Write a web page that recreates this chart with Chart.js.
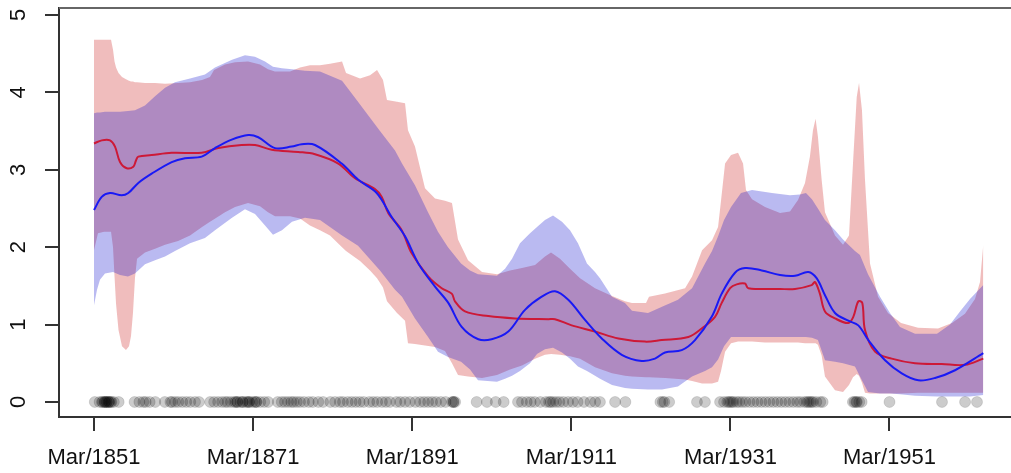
<!DOCTYPE html>
<html><head><meta charset="utf-8">
<script src="https://cdn.jsdelivr.net/npm/chart.js@4.4.1/dist/chart.umd.min.js"></script>
<style>html,body{margin:0;padding:0;background:#fff;overflow:hidden;}#wrap{width:1030px;height:473px;}</style>
</head><body><div id="wrap"><canvas id="c" width="1030" height="473"></canvas></div>
<script>
// ---- data (x = years counted from March) ----
const redBandYears = [1851.00,1851.50,1852.26,1853.14,1853.39,1853.58,1853.77,1854.08,1854.52,1855.02,1855.40,1855.65,1855.90,1856.15,1856.41,1857.41,1858.67,1859.93,1861.56,1863.07,1864.58,1865.58,1866.09,1867.47,1868.73,1870.36,1871.87,1872.87,1873.75,1875.64,1876.90,1878.15,1879.41,1880.67,1882.18,1882.68,1884.44,1885.70,1886.58,1887.33,1887.83,1889.09,1890.10,1890.47,1891.35,1892.61,1893.87,1895.12,1896.00,1896.76,1898.02,1899.78,1901.66,1903.30,1904.80,1906.44,1907.69,1908.45,1909.58,1910.84,1912.10,1913.98,1916.12,1917.75,1918.63,1920.39,1920.77,1922.78,1925.30,1926.18,1927.44,1928.69,1929.45,1929.82,1930.33,1931.08,1931.96,1932.59,1932.96,1933.72,1935.35,1937.24,1938.49,1939.50,1940.38,1941.00,1941.38,1941.71,1942.00,1942.47,1942.89,1944.15,1945.16,1945.91,1946.41,1946.88,1947.17,1947.54,1947.92,1948.55,1949.56,1950.81,1952.45,1954.59,1957.10,1958.86,1960.49,1961.75,1962.38,1962.79];
const redUpper = [4.68,4.68,4.68,4.68,4.55,4.40,4.32,4.25,4.20,4.17,4.15,4.14,4.14,4.13,4.13,4.12,4.12,4.11,4.12,4.13,4.16,4.20,4.29,4.36,4.39,4.40,4.36,4.30,4.27,4.27,4.32,4.35,4.35,4.37,4.40,4.25,4.18,4.22,4.29,4.16,3.90,3.88,3.86,3.51,3.30,2.76,2.63,2.60,2.57,2.10,1.83,1.68,1.65,1.70,1.73,1.77,1.88,1.93,1.85,1.72,1.60,1.47,1.37,1.30,1.28,1.28,1.36,1.40,1.47,1.62,1.96,2.09,2.26,2.60,3.08,3.19,3.22,3.08,2.74,2.62,2.52,2.44,2.46,2.61,2.83,3.17,3.51,3.66,3.43,2.87,2.45,2.15,2.03,2.15,3.08,3.94,4.12,3.77,2.87,1.79,1.36,1.15,1.02,0.96,0.95,1.02,1.14,1.33,1.55,2.03];
const redLower = [1.96,2.18,2.20,2.20,2.00,1.62,1.27,0.93,0.72,0.67,0.72,0.85,1.15,1.60,1.85,1.93,1.98,2.03,2.08,2.15,2.26,2.33,2.36,2.45,2.52,2.57,2.53,2.45,2.40,2.40,2.37,2.28,2.22,2.15,2.00,1.95,1.82,1.70,1.60,1.48,1.30,1.15,1.05,0.76,0.75,0.73,0.71,0.66,0.50,0.35,0.33,0.31,0.35,0.42,0.47,0.56,0.61,0.62,0.61,0.59,0.56,0.45,0.37,0.34,0.33,0.32,0.32,0.31,0.29,0.27,0.24,0.24,0.26,0.40,0.65,0.76,0.78,0.78,0.78,0.78,0.77,0.77,0.77,0.77,0.76,0.76,0.76,0.76,0.74,0.60,0.33,0.15,0.13,0.22,0.32,0.36,0.34,0.25,0.12,0.11,0.11,0.11,0.11,0.12,0.12,0.12,0.12,0.12,0.12,0.12];

const blueBandYears = [1851.00,1851.38,1851.75,1852.38,1853.39,1854.27,1855.27,1856.15,1857.41,1858.67,1859.93,1861.18,1863.07,1864.95,1866.21,1868.35,1869.98,1871.24,1872.50,1873.50,1874.63,1875.89,1877.52,1879.41,1882.18,1884.19,1886.95,1888.84,1889.72,1891.35,1892.99,1894.24,1895.50,1897.14,1898.27,1899.27,1901.66,1902.67,1903.55,1904.55,1905.81,1906.69,1907.69,1908.70,1909.83,1910.84,1911.84,1912.97,1913.98,1914.61,1916.12,1917.75,1918.63,1920.64,1922.40,1924.41,1926.18,1927.81,1928.69,1929.45,1930.20,1931.08,1932.33,1933.72,1936.23,1938.49,1939.75,1940.50,1941.25,1942.00,1942.89,1944.15,1945.16,1946.66,1947.29,1948.30,1949.81,1951.06,1952.32,1954.21,1956.97,1958.61,1959.86,1961.12,1962.79];
const blueUpper = [3.73,3.74,3.74,3.75,3.75,3.75,3.76,3.77,3.83,3.95,4.06,4.13,4.18,4.23,4.32,4.42,4.48,4.46,4.40,4.33,4.31,4.30,4.28,4.27,4.15,3.88,3.50,3.25,3.08,2.80,2.45,2.20,2.00,1.79,1.70,1.65,1.63,1.72,1.85,2.05,2.18,2.26,2.35,2.41,2.33,2.22,2.05,1.79,1.68,1.60,1.36,1.28,1.18,1.15,1.23,1.32,1.47,1.79,1.95,2.14,2.35,2.52,2.70,2.74,2.70,2.67,2.68,2.70,2.62,2.50,2.35,2.22,2.10,1.95,1.90,1.65,1.36,1.15,0.97,0.88,0.88,1.00,1.17,1.33,1.51];
const blueLower = [1.25,1.45,1.58,1.66,1.68,1.64,1.62,1.66,1.78,1.83,1.88,1.95,2.05,2.12,2.22,2.38,2.49,2.43,2.28,2.16,2.22,2.33,2.38,2.35,2.15,2.02,1.70,1.45,1.36,1.08,0.84,0.65,0.58,0.52,0.42,0.28,0.26,0.30,0.34,0.40,0.50,0.62,0.68,0.70,0.64,0.56,0.46,0.40,0.34,0.30,0.22,0.18,0.17,0.16,0.16,0.20,0.33,0.40,0.45,0.55,0.72,0.84,0.84,0.84,0.84,0.84,0.84,0.84,0.83,0.80,0.54,0.52,0.50,0.46,0.33,0.13,0.11,0.11,0.10,0.08,0.07,0.07,0.07,0.07,0.09];

const redLineYears = [1851.00,1851.97,1853.01,1853.64,1854.27,1855.11,1855.94,1856.28,1856.57,1858.25,1860.77,1864.54,1866.63,1869.57,1871.24,1873.34,1876.68,1878.78,1881.71,1883.81,1886.32,1887.17,1888.00,1889.68,1890.94,1893.03,1894.71,1895.97,1896.38,1897.64,1900.57,1903.92,1908.11,1908.95,1911.05,1913.98,1916.92,1920.27,1922.37,1925.71,1927.40,1929.07,1929.91,1930.96,1931.79,1932.84,1933.25,1937.24,1939.12,1941.22,1941.63,1942.25,1942.89,1944.15,1945.82,1946.45,1947.08,1947.58,1947.92,1949.18,1951.28,1954.21,1957.56,1960.49,1962.79];
const redLine = [3.34,3.38,3.38,3.30,3.10,3.02,3.04,3.12,3.17,3.19,3.22,3.22,3.28,3.32,3.32,3.26,3.23,3.20,3.08,2.89,2.75,2.65,2.44,2.22,1.92,1.62,1.47,1.40,1.30,1.17,1.11,1.08,1.07,1.07,0.99,0.91,0.82,0.78,0.80,0.84,0.95,1.10,1.28,1.47,1.52,1.53,1.47,1.46,1.46,1.51,1.55,1.40,1.17,1.08,1.02,1.10,1.30,1.28,0.93,0.65,0.56,0.50,0.49,0.48,0.56];

const blueLineYears = [1851.00,1851.97,1853.01,1854.48,1855.31,1856.57,1858.25,1860.77,1862.44,1864.54,1866.21,1868.31,1870.40,1871.65,1873.75,1875.85,1877.11,1878.78,1882.14,1884.23,1886.54,1888.42,1890.10,1891.77,1893.87,1895.54,1897.22,1899.31,1900.99,1903.08,1905.18,1907.28,1908.95,1910.62,1912.72,1914.83,1917.34,1919.85,1921.52,1922.78,1924.88,1926.55,1928.65,1929.91,1931.58,1932.84,1934.94,1937.24,1939.12,1940.79,1941.84,1942.89,1944.15,1945.82,1947.08,1948.34,1950.44,1952.54,1954.63,1956.72,1959.24,1962.79];
const blueLine = [2.48,2.65,2.70,2.67,2.70,2.83,2.95,3.10,3.15,3.17,3.28,3.39,3.45,3.42,3.28,3.30,3.33,3.32,3.08,2.87,2.70,2.39,2.14,1.79,1.49,1.28,0.97,0.81,0.81,0.91,1.19,1.36,1.43,1.32,1.06,0.82,0.61,0.53,0.56,0.64,0.67,0.80,1.10,1.40,1.67,1.73,1.70,1.64,1.63,1.68,1.60,1.38,1.15,1.05,0.99,0.80,0.54,0.37,0.28,0.31,0.41,0.63];

const eventYears = [1851.1,1851.7,1852.0,1852.1,1852.3,1852.4,1852.4,1852.6,1852.6,1852.8,1852.9,1852.9,1853.1,1853.2,1853.5,1854.1,
  1856.1,1856.7,1857.2,1857.5,1858.0,1858.7,
  1859.9,1860.6,1860.8,1861.2,1861.6,1862.1,1862.6,1863.1,1863.7,1864.2,
  1865.6,1866.1,1866.6,1867.1,1867.5,1867.8,1868.2,1868.6,1868.8,1869.0,1869.0,1869.4,1869.7,1869.7,1870.1,1870.3,1870.5,1870.5,1870.9,1871.2,1871.4,1871.4,1871.9,1872.4,1872.9,
  1874.1,1874.6,1875.0,1875.4,1875.8,1876.1,1876.5,1876.9,1877.4,1878.0,1878.5,1879.2,1879.8,
  1880.7,1881.3,1881.9,1882.3,1882.9,1883.4,1883.9,1884.4,1884.9,1885.6,1886.1,1886.6,1887.2,1887.7,1888.2,
  1889.0,1889.5,1890.1,1890.7,1891.4,1892.0,1892.5,1893.0,1893.5,1894.0,1894.6,1895.2,1896.0,1896.2,1896.2,1896.4,
  1899.1,1900.4,1901.5,1902.5,
  1904.3,1904.8,1905.4,1905.9,1906.4,1907.1,1907.8,1908.2,1908.4,1908.7,1909.1,1909.5,1910.0,1910.6,1911.2,1911.8,1912.6,1913.4,1914.0,1914.6,
  1916.5,1917.8,
  1922.2,1922.5,1922.7,1923.3,
  1926.8,1927.8,
  1929.7,1930.2,1930.6,1930.8,1931.0,1931.2,1931.4,1931.8,1932.1,1932.5,1932.9,1933.4,1933.9,1934.4,1934.9,1935.4,1935.9,1936.4,1936.9,1937.4,1937.9,1938.4,1938.9,1939.4,1939.8,1940.3,1940.6,1940.8,1941.0,1941.2,1941.4,1941.8,1942.3,1942.6,
  1946.4,1946.6,1946.8,1946.9,1947.2,1947.5,
  1951.0,1957.6,1960.5,1962.0];

const xTickYears = [1851,1871,1891,1911,1931,1951];
const yTickValues = [0,1,2,3,4,5];
const tickPrefix = 'Mar/';
const xRange = [1846.60, 1967.28];
const yRange = [-0.194, 5.090];

// ---- chart ----
function pts(xs, ys){ return xs.map((x,i)=>({x:x, y:ys[i]})); }
const none = 'rgba(0,0,0,0)';
const redFill = 'rgba(205,38,38,0.30)';
const blueFill = 'rgba(0,0,205,0.27)';
const FONT = '"Liberation Sans", Arial, sans-serif';

const rPlotDecor = {
  id: 'rPlotDecor',
  afterDraw(chart){
    const {ctx, chartArea, scales} = chart;
    const y = scales.y;
    ctx.save();
    ctx.font = '22px ' + FONT;
    ctx.fillStyle = '#111';
    ctx.textAlign = 'center';
    ctx.textBaseline = 'middle';
    yTickValues.forEach(v => {
      const py = y.getPixelForValue(v);
      ctx.save();
      ctx.translate(19, py);
      ctx.rotate(-Math.PI/2);
      ctx.fillText(String(v), 0, 0);
      ctx.restore();
    });
    ctx.strokeStyle = '#666';
    ctx.lineWidth = 2;
    ctx.beginPath();
    ctx.moveTo(chartArea.left, chartArea.top);
    ctx.lineTo(chartArea.right, chartArea.top);
    ctx.stroke();
    ctx.restore();
  }
};

new Chart(document.getElementById('c'), {
  type: 'line',
  data: {
    datasets: [
      {label:'events', data: eventYears.map(x=>({x:x, y:0})), showLine:false,
       pointRadius:5.5, pointBackgroundColor:'rgba(0,0,0,0.2)', pointBorderColor:'rgba(0,0,0,0.12)', pointBorderWidth:1},
      {label:'blue', data: pts(blueLineYears, blueLine), borderColor:'rgb(25,25,245)', borderWidth:2, pointRadius:0, tension:0.35, fill:false},
      {label:'red', data: pts(redLineYears, redLine), borderColor:'rgb(205,25,55)', borderWidth:2, pointRadius:0, tension:0.35, fill:false},
      {label:'blueLower', data: pts(blueBandYears, blueLower), borderColor:none, borderWidth:0, pointRadius:0, fill:'+1', backgroundColor:blueFill},
      {label:'blueUpper', data: pts(blueBandYears, blueUpper), borderColor:none, borderWidth:0, pointRadius:0, fill:false},
      {label:'redLower', data: pts(redBandYears, redLower), borderColor:none, borderWidth:0, pointRadius:0, fill:'+1', backgroundColor:redFill},
      {label:'redUpper', data: pts(redBandYears, redUpper), borderColor:none, borderWidth:0, pointRadius:0, fill:false}
    ]
  },
  options: {
    responsive:false, animation:false,
    layout:{padding:{left:0, top:8, right:11, bottom:0}},
    plugins:{legend:{display:false}, tooltip:{enabled:false}},
    scales:{
      x:{type:'linear', min:xRange[0], max:xRange[1],
         afterFit: s => { s.height = 56; },
         afterBuildTicks: s => { s.ticks = xTickYears.map(v=>({value:v})); },
         ticks:{callback: v => tickPrefix + v, font:{family:FONT, size:22}, color:'#111', maxRotation:0, minRotation:0, autoSkip:false, padding:14},
         grid:{drawOnChartArea:false, drawTicks:true, tickLength:14, color:'#333', lineWidth:2},
         border:{display:true, color:'#333', width:2}},
      y:{type:'linear', min:yRange[0], max:yRange[1],
         afterFit: s => { s.width = 59; },
         afterBuildTicks: s => { s.ticks = yTickValues.map(v=>({value:v})); },
         ticks:{display:false},
         grid:{drawOnChartArea:false, drawTicks:true, tickLength:14, color:'#333', lineWidth:2},
         border:{display:true, color:'#333', width:2}}
    }
  },
  plugins:[rPlotDecor]
});
</script></body></html>
